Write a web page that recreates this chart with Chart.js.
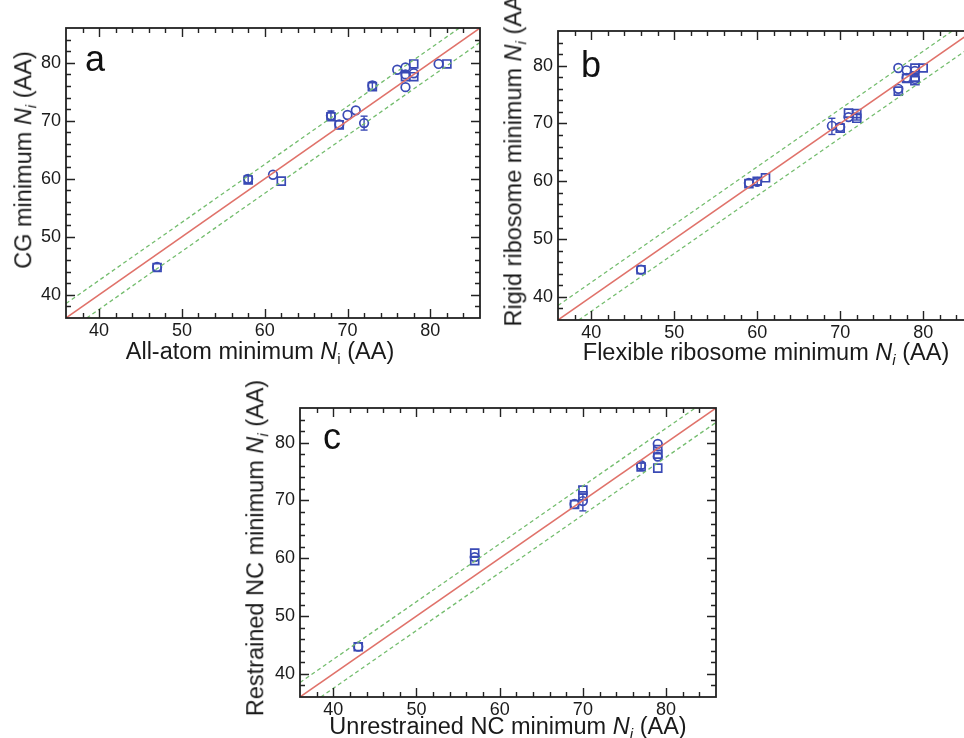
<!DOCTYPE html>
<html><head><meta charset="utf-8">
<script src="https://cdn.jsdelivr.net/npm/chart.js@4/dist/chart.umd.min.js"></script>
<style>
html,body{margin:0;padding:0;width:964px;height:738px;overflow:hidden;background:#fff;}
canvas{position:absolute;}
.t{position:absolute;font-family:"Liberation Sans",Arial,sans-serif;color:#1a1a1a;white-space:nowrap;font-size:23.5px;line-height:1;}
.yt{transform:translate(-50%,-50%) rotate(-90deg);}
.xt{transform:translate(-50%,0);}
.lab{position:absolute;font-family:"Liberation Sans",Arial,sans-serif;font-size:36px;color:#111;line-height:1;}
sub{font-size:0.65em;vertical-align:-0.3em;line-height:0;}
</style></head>
<body>
<canvas id="ca" width="490" height="340" style="left:0px;top:0px"></canvas>
<canvas id="cb" width="490" height="342" style="left:500px;top:0px"></canvas>
<canvas id="cc" width="490" height="339" style="left:240px;top:380px"></canvas>

<div class="lab" style="left:85px;top:41px">a</div>
<div class="lab" style="left:581px;top:47px">b</div>
<div class="lab" style="left:323px;top:419px">c</div>

<div class="t xt" style="left:260px;top:340px">All-atom minimum <i>N</i><sub>i</sub> (AA)</div>
<div class="t yt" style="left:24px;top:160px">CG minimum <i>N</i><sub><i>i</i></sub> (AA)</div>
<div class="t xt" style="left:766px;top:341px">Flexible ribosome minimum <i>N</i><sub><i>i</i></sub> (AA)</div>
<div class="t yt" style="left:514px;top:157px">Rigid ribosome minimum <i>N</i><sub><i>i</i></sub> (AA)</div>
<div class="t xt" style="left:508px;top:715px">Unrestrained NC minimum <i>N</i><sub><i>i</i></sub> (AA)</div>
<div class="t yt" style="left:256px;top:548px">Restrained NC minimum <i>N</i><sub><i>i</i></sub> (AA)</div>

<script>
// ---- axis / tick labels ----
const axisRange = [36, 86];
const tickLabels = [40, 50, 60, 70, 80];
const bandOffset = 2.5;

// ---- panel a : CG vs all-atom ----
const aCircX = [47, 58, 61, 68, 69, 70, 71, 72, 73, 76, 77, 77, 77, 78, 81];
const aCircY = [44.8, 60.0, 60.7, 70.9, 69.4, 71.0, 71.8, 69.6, 76.1, 78.8, 79.2, 78.0, 75.8, 78.2, 79.8];
const aSqX   = [47, 58, 62, 68, 69, 73, 77, 78, 78, 82];
const aSqY   = [44.7, 59.8, 59.6, 70.7, 69.3, 75.9, 77.6, 79.8, 77.6, 79.8];
const aErrX  = [58, 68, 72, 73];
const aErrY  = [59.9, 70.95, 69.6, 76.0];
const aErrE  = [0.7, 0.75, 1.2, 0.7];

// ---- panel b : rigid vs flexible ribosome ----
const bCircX = [46, 59, 60, 69, 70, 71, 77, 77, 78, 78, 79, 79];
const bCircY = [44.7, 59.7, 59.9, 69.6, 69.4, 71.1, 79.6, 76.0, 79.2, 77.9, 79.1, 77.7];
const bSqX   = [46, 59, 60, 61, 70, 71, 72, 72, 77, 78, 79, 79, 79, 80];
const bSqY   = [44.7, 59.6, 60.0, 60.6, 69.2, 71.8, 71.7, 70.9, 75.6, 77.8, 79.6, 78.0, 77.4, 79.6];
const bErrX  = [60, 69, 72];
const bErrY  = [59.9, 69.5, 71.2];
const bErrE  = [0.5, 1.4, 0.6];

// ---- panel c : restrained vs unrestrained NC ----
const cCircX = [43, 57, 69, 70, 77, 79, 79];
const cCircY = [44.7, 60.2, 69.4, 69.9, 76.1, 79.8, 77.6];
const cSqX   = [43, 57, 57, 69, 70, 70, 77, 79, 79, 79];
const cSqY   = [44.7, 60.9, 59.6, 69.3, 71.8, 70.8, 75.8, 78.8, 78.0, 75.6];
const cErrX  = [70, 77];
const cErrY  = [69.65, 76.0];
const cErrE  = [1.45, 0.5];

const BLUE = '#3a4ab5';
const RED = '#e0726a';
const GREEN = '#74bd6e';
const FONT = '"Liberation Sans", Arial, sans-serif';

const frameTicks = {
  id: 'frameTicks',
  afterDraw(chart) {
    const {ctx, chartArea: a, scales: {x, y}} = chart;
    ctx.save();
    ctx.strokeStyle = '#222';
    ctx.lineWidth = 1.4;
    ctx.beginPath();
    for (let v = axisRange[0] + 2; v < axisRange[1]; v += 2) {
      const len = v % 10 === 0 ? 9 : 5;
      const px = Math.round(x.getPixelForValue(v)) + 0.5;
      const py = Math.round(y.getPixelForValue(v)) + 0.5;
      ctx.moveTo(px, a.bottom); ctx.lineTo(px, a.bottom - len);
      ctx.moveTo(px, a.top); ctx.lineTo(px, a.top + len);
      ctx.moveTo(a.left, py); ctx.lineTo(a.left + len, py);
      ctx.moveTo(a.right, py); ctx.lineTo(a.right - len, py);
    }
    ctx.stroke();
    ctx.lineWidth = 1.8;
    ctx.strokeRect(a.left, a.top, a.right - a.left, a.bottom - a.top);
    ctx.restore();
  }
};

function pts(xs, ys) { return xs.map((v, i) => ({x: v, y: ys[i]})); }

function makeChart(id, cx, cy, sx, sy, ex, ey, ee, geo) {
  const lo = axisRange[0], hi = axisRange[1];
  const errSeg = [];
  const errCap = [];
  ex.forEach((v, i) => {
    errSeg.push({x: v, y: ey[i] - ee[i]}, {x: v, y: ey[i] + ee[i]}, {x: v, y: null});
    errCap.push({x: v, y: ey[i] - ee[i]}, {x: v, y: ey[i] + ee[i]});
  });
  const lineDs = (data, color, dash, w) => ({
    data, showLine: true, borderColor: color, borderWidth: w, borderDash: dash,
    pointRadius: 0, fill: false, spanGaps: false
  });
  new Chart(document.getElementById(id), {
    type: 'scatter',
    data: {
      datasets: [
        lineDs([{x: lo, y: lo + bandOffset}, {x: hi, y: hi + bandOffset}], GREEN, [4, 3], 1.3),
        lineDs([{x: lo + bandOffset, y: lo}, {x: hi + bandOffset, y: hi}], GREEN, [4, 3], 1.3),
        lineDs([{x: lo, y: lo}, {x: hi, y: hi}], RED, [], 1.5),
        lineDs(errSeg, BLUE, [], 1.4),
        {data: errCap, pointStyle: 'line', pointRadius: 3.5, borderColor: BLUE, borderWidth: 1.4, backgroundColor: BLUE},
        {data: pts(cx, cy), pointStyle: 'circle', pointRadius: 4.3, borderColor: BLUE, borderWidth: 1.7, backgroundColor: 'rgba(0,0,0,0)'},
        {data: pts(sx, sy), pointStyle: 'rect', pointRadius: 5.6, borderColor: BLUE, borderWidth: 1.7, backgroundColor: 'rgba(0,0,0,0)'}
      ]
    },
    options: {
      responsive: false,
      animation: false,
      events: [],
      layout: {padding: {top: geo.top, right: geo.right, left: 0, bottom: 0}},
      plugins: {legend: {display: false}, tooltip: {enabled: false}},
      scales: {
        x: {
          type: 'linear', min: lo, max: hi,
          afterBuildTicks: s => { s.ticks = tickLabels.map(v => ({value: v})); },
          afterFit: s => { s.height = geo.xh; },
          grid: {display: false, drawTicks: false},
          border: {display: false},
          ticks: {font: {size: 18, family: FONT}, color: '#1a1a1a', padding: 2, maxRotation: 0, autoSkip: false}
        },
        y: {
          type: 'linear', min: lo, max: hi,
          afterBuildTicks: s => { s.ticks = tickLabels.map(v => ({value: v})); },
          afterFit: s => { s.width = geo.yw; },
          grid: {display: false, drawTicks: false},
          border: {display: false},
          ticks: {font: {size: 18, family: FONT}, color: '#1a1a1a', padding: 5, autoSkip: false}
        }
      }
    },
    plugins: [frameTicks]
  });
}

makeChart('ca', aCircX, aCircY, aSqX, aSqY, aErrX, aErrY, aErrE, {top: 28, right: 10, xh: 22, yw: 66});
makeChart('cb', bCircX, bCircY, bSqX, bSqY, bErrX, bErrY, bErrE, {top: 31, right: 17, xh: 22, yw: 58});
makeChart('cc', cCircX, cCircY, cSqX, cSqY, cErrX, cErrY, cErrE, {top: 28, right: 14, xh: 22, yw: 60});
</script>
</body></html>
